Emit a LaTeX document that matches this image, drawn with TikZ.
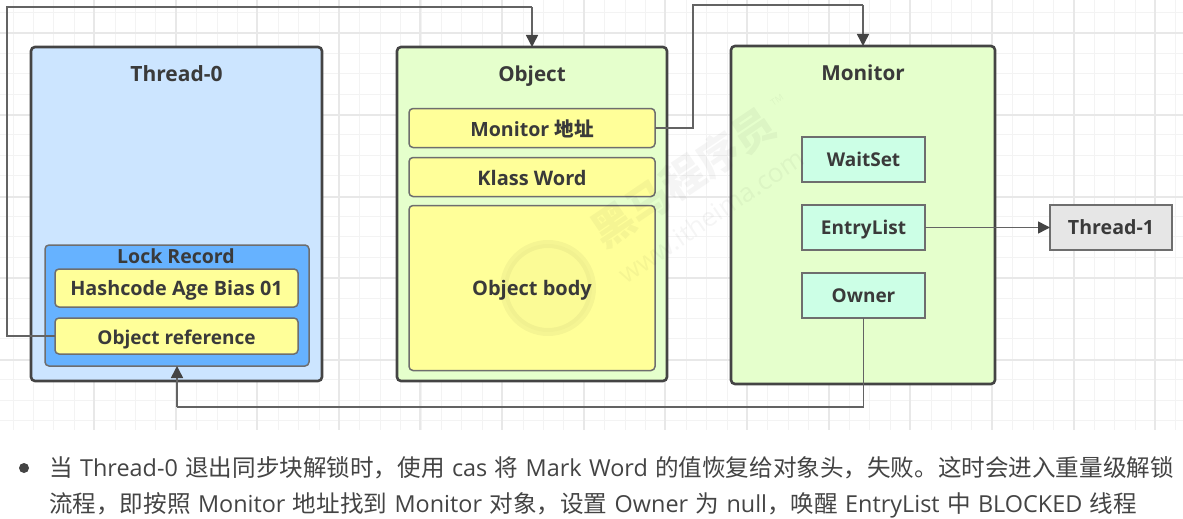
\documentclass[tikz,border=0pt]{standalone}
\usepackage{fontspec}
\setmainfont{Open Sans}
\newfontfamily\cjk{Noto Sans CJK SC}
\newcommand{\zh}[1]{{\cjk\fontsize{23.57}{28}\selectfont #1}}
\newcommand{\widesp}{\spaceskip=7.4pt plus 0pt minus 0pt\relax}
\usetikzlibrary{arrows.meta}
\definecolor{edge}{HTML}{444444}
\definecolor{softedge}{HTML}{6E6E6E}
\definecolor{wire}{HTML}{636363}
\definecolor{inkc}{HTML}{3A3A3A}
\definecolor{bodyink}{HTML}{444444}
\definecolor{bluebox}{HTML}{CCE5FF}
\definecolor{deepblue}{HTML}{66B2FF}
\definecolor{greenbox}{HTML}{E5FFCC}
\definecolor{yellowbox}{HTML}{FFFF99}
\definecolor{mintbox}{HTML}{CCFFE6}
\definecolor{greybox}{HTML}{E6E6E6}
\definecolor{gridminor}{HTML}{F3F3F3}
\definecolor{gridmajor}{HTML}{E8E8E8}
\tikzset{
  x=1pt,y=-1pt,
  wh/.style 2 args={minimum width=#1pt,minimum height=#2pt},
  fs/.style={font=\bfseries\fontsize{#1}{22}\selectfont},
  outerbox/.style={draw=edge,line width=2.6pt,rounded corners=4pt,anchor=north west,inner sep=0pt,outer sep=0pt},
  innerbox/.style={draw=softedge,line width=1.5pt,rounded corners=4pt,fill=yellowbox,inner sep=0pt,outer sep=0pt,text=inkc,text height=15.5pt,text depth=0.5pt},
  lowtext/.style={text height=17.5pt},
  flatbox/.style={draw=softedge,line width=1.5pt,inner sep=0pt,outer sep=0pt,text=inkc,text height=14pt,text depth=1pt},
  titletext/.style={inner sep=0pt,text=inkc,text height=15.5pt,text depth=0.5pt},
  wireline/.style={draw=wire,line width=1.5pt},
  arrowline/.style={wireline,-{Triangle[length=12pt,width=12pt,color=edge]}},
  paratext/.style={anchor=base west,inner sep=0pt,text=bodyink,font=\fontsize{23.4}{28}\selectfont},
  wmark/.style={text=black,opacity=0.04,inner sep=0pt},
}
\begin{document}
\begin{tikzpicture}
\useasboundingbox (0,0) rectangle (1183,519);
\fill[white] (0,0) rectangle (1183,519);
% grid
\foreach \i in {0,...,57}{
  \pgfmathsetmacro{\gx}{13+20.4*(\i-0)}
  \draw[gridminor,line width=1pt] (\gx,0) -- (\gx,430);
}
\foreach \i in {0,...,20}{
  \pgfmathsetmacro{\gy}{12.5+20.4*\i}
  \draw[gridminor,line width=1pt] (0,\gy) -- (1183,\gy);
}
\foreach \gx in {94,176,257,339,420,502,584,665,747,829,910,992,1074,1155}{
  \draw[gridmajor,line width=1.2pt] (\gx,0) -- (\gx,430);
}
\foreach \gy in {33,115,197,278,360}{
  \draw[gridmajor,line width=1.2pt] (0,\gy) -- (1183,\gy);
}
% outer boxes
\node[outerbox,fill=bluebox,wh={291}{334}] (thread0) at (31,47) {};
\node[outerbox,fill=greenbox,wh={270}{334}] (object) at (397,47) {};
\node[outerbox,fill=greenbox,wh={264}{338}] (monitor) at (731,46) {};
\node[titletext,fs=21] (t0title) at (176.5,74) {Thread-0};
\node[titletext,fs=20.6] (objtitle) at (532,74) {Object};
\node[titletext,fs=20.7] (montitle) at (863,73) {Monitor};
% lock record
\node[draw=softedge,line width=1.5pt,rounded corners=4pt,fill=deepblue,anchor=north west,inner sep=0pt,outer sep=0pt,wh={264}{121}] (lock) at (45,245) {};
\node[titletext,fs=19.5] (locktitle) at (176,256) {Lock Record};
\node[innerbox,fs=19.8,wh={243}{38}] (hash) at (176.5,288) {Hashcode Age Bias 01};
\node[innerbox,lowtext,fs=19,wh={243}{36}] (objref) at (176.5,336) {Object reference};
% object fields
\node[innerbox,lowtext,fs=19.6,wh={246}{39}] (monaddr) at (532,128) {Monitor {\cjk 地址}};
\node[innerbox,lowtext,fs=20,wh={246}{39}] (klass) at (532,177) {Klass Word};
\node[innerbox,fs=20,wh={246}{165}] (body) at (532,288) {Object body};
% monitor fields
\node[flatbox,fs=19,fill=mintbox,wh={123}{45}] (waitset) at (863.5,159.5) {WaitSet};
\node[flatbox,fs=19,fill=mintbox,wh={123}{45}] (entry) at (863.5,227.5) {EntryList};
\node[flatbox,fs=19,fill=mintbox,wh={123}{45}] (owner) at (863.5,295.5) {Owner};
\node[flatbox,fs=19.6,fill=greybox,wh={122}{45}] (thread1) at (1111,227.5) {Thread-1};
% connector helpers
\coordinate (a1) at (7,336);
\coordinate (a2) at (7,7);
\coordinate (a3) at (532,7);
\coordinate (b1) at (693,128);
\coordinate (b2) at (693,5);
\coordinate (b3) at (863,5);
\coordinate (c1) at (863.5,407);
\coordinate (c2) at (177,407);
% connectors
\draw[wireline] (objref.west) -- (a1) -- (a2) -- (a3);
\draw[arrowline] (a3) -- (object.north -| a3);
\draw[wireline] (monaddr.east) -- (b1) -- (b2) -- (b3);
\draw[arrowline] (b3) -- (monitor.north -| b3);
\draw[arrowline] (entry.east) -- (thread1.west);
\draw[wireline] (owner.south) -- (c1) -- (c2);
\draw[arrowline] (c2) -- (lock.south -| c2);
% watermark
\node[wmark,rotate=34,font=\cjk\bfseries\fontsize{42}{46}\selectfont] (wm1) at (683,178) {黑马程序员};
\node[wmark,rotate=34,font=\fontsize{26}{30}\selectfont] (wm2) at (711,216) {www.itheima.com};
\node[wmark,rotate=34,font=\fontsize{9}{10}\selectfont] (wm3) at (777,100) {TM};
\draw[black,opacity=0.04,line width=8pt] (548,288) circle (44);
\fill[black,opacity=0.015] (548,288) circle (44);
% paragraph
\fill[bodyink] (24,468) circle (5);
\node[paratext] (line1) at (49,476) {\widesp\zh{当} Thread-0 \zh{退出同步块解锁时，使用} cas \zh{将} Mark Word \zh{的值恢复给对象头，失败。这时会进入重量级解锁}};
\node[paratext] (line2) at (49,512) {\widesp\zh{流程，即按照} Monitor \zh{地址找到} Monitor \zh{对象，设置} Owner \zh{为} null\zh{，唤醒} EntryList \zh{中} BLOCKED \zh{线程}};
\end{tikzpicture}
\end{document}
